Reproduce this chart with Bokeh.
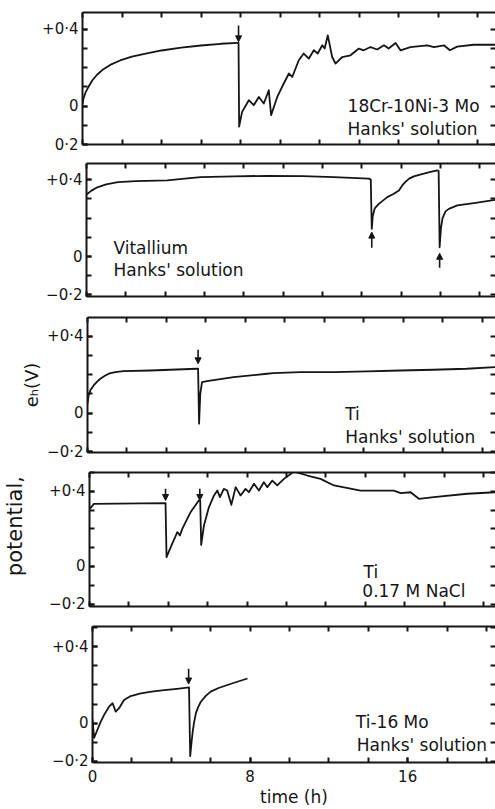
from bokeh.plotting import figure
from bokeh.layouts import column, row
from bokeh.models import Range1d, LinearAxis, FixedTicker, Label, Arrow, NormalHead
from bokeh.embed import file_html
from bokeh.resources import INLINE

FONT = "DejaVu Sans"
INK = "#151515"

# ---------------- data (time in h, potential in V) ----------------
# Panel 1: 18Cr-10Ni-3 Mo, Hanks' solution
t1 = [0, 0.05, 0.15, 0.3, 0.5, 0.75, 1.0, 1.4, 1.9, 2.5, 3.2, 4.0, 5.0, 6.0, 7.0, 7.85, 7.9,
      7.93, 8.08, 8.42, 8.67, 8.93, 9.18, 9.43, 9.55, 9.86, 10.19, 10.45, 10.62, 10.95, 11.2,
      11.46, 11.71, 11.91, 12.14, 12.26, 12.42, 12.64, 12.81, 13.15, 13.57, 13.99, 14.24,
      14.58, 14.92, 15.26, 15.5, 15.85, 16.1, 16.6, 17.45, 17.8, 18.3, 18.6, 18.97, 19.8, 20.9]
v1 = [0.01, 0.04, 0.07, 0.10, 0.135, 0.165, 0.188, 0.215, 0.238, 0.258, 0.274, 0.29, 0.305,
      0.316, 0.325, 0.33, 0.33, -0.107, -0.03, 0.031, 0.005, 0.048, 0.014, 0.083, -0.047, 0.048,
      0.118, 0.17, 0.152, 0.239, 0.274, 0.248, 0.291, 0.274, 0.317, 0.30, 0.369, 0.256, 0.222,
      0.256, 0.265, 0.30, 0.291, 0.308, 0.295, 0.317, 0.30, 0.329, 0.291, 0.308, 0.317, 0.308,
      0.317, 0.291, 0.31, 0.32, 0.32]

# Panel 2: Vitallium, Hanks' solution
t2 = [0, 0.25, 0.55, 1.0, 1.6, 2.5, 4.1, 5.0, 5.8, 7.5, 9.2, 11.0, 12.57, 14.35, 14.45, 14.5,
      14.55, 14.65, 14.86, 15.29, 15.6, 15.88, 16.05, 16.2, 16.4, 16.64, 17.0, 17.49, 17.83,
      17.9, 17.95, 18.02, 18.1, 18.25, 18.42, 18.85, 19.69, 20.8]
v2 = [0.323, 0.343, 0.36, 0.375, 0.387, 0.392, 0.396, 0.405, 0.413, 0.417, 0.42, 0.418, 0.413,
      0.405, 0.40, 0.144, 0.21, 0.25, 0.274, 0.309, 0.325, 0.344, 0.37, 0.387, 0.405, 0.417,
      0.428, 0.44, 0.448, 0.445, 0.048, 0.15, 0.20, 0.235, 0.248, 0.266, 0.278, 0.295]

# Panel 3: Ti, Hanks' solution
t3 = [0, 0.05, 0.15, 0.31, 0.5, 0.65, 0.9, 1.15, 1.5, 1.83, 3.18, 5.54, 5.6, 5.65, 5.71, 5.8,
      6.05, 7.4, 9.09, 9.4, 10.77, 12.46, 14.15, 15.84, 17.5, 19.2, 20.65]
v3 = [0.05, 0.09, 0.12, 0.144, 0.165, 0.179, 0.196, 0.208, 0.215, 0.219, 0.222, 0.231, 0.231,
      -0.055, 0.10, 0.161, 0.167, 0.188, 0.205, 0.208, 0.214, 0.214, 0.217, 0.222, 0.226,
      0.231, 0.24]

# Panel 4: Ti, 0.17 M NaCl
t4 = [0, 0.09, 0.22, 3.86, 3.91, 4.2, 4.46, 4.59, 4.71, 5.13, 5.55, 5.62, 5.67, 5.81, 6.06,
      6.32, 6.49, 6.62, 6.82, 6.99, 7.2, 7.42, 7.67, 7.92, 8.09, 8.35, 8.6, 8.85, 9.03, 9.28,
      9.53, 9.87, 10.38, 11.06, 11.73, 12.41, 13.76, 15.45, 15.8, 16.3, 16.72, 17.48, 19.18,
      20.6]
v4 = [0.307, 0.315, 0.333, 0.337, 0.05, 0.121, 0.183, 0.165, 0.20, 0.289, 0.351, 0.351, 0.115,
      0.218, 0.315, 0.378, 0.404, 0.369, 0.413, 0.404, 0.328, 0.422, 0.378, 0.413, 0.395, 0.44,
      0.404, 0.448, 0.422, 0.457, 0.431, 0.466, 0.505, 0.484, 0.466, 0.431, 0.404, 0.404, 0.39,
      0.395, 0.36, 0.369, 0.387, 0.395]

# Panel 5: Ti-16 Mo, Hanks' solution
t5 = [0, 0.08, 0.25, 0.42, 0.59, 0.84, 1.02, 1.18, 1.35, 1.6, 1.94, 2.45, 3.0, 3.63, 4.3, 4.9,
      4.96, 5.02, 5.08, 5.15, 5.25, 5.37, 5.5, 5.75, 6.0, 6.4, 6.85, 7.35, 7.87]
v5 = [0.02, -0.078, -0.035, 0.008, 0.043, 0.086, 0.104, 0.06, 0.078, 0.121, 0.142, 0.156, 0.165,
      0.173, 0.18, 0.1875, -0.174, -0.11, -0.052, 0.0, 0.052, 0.085, 0.112, 0.143, 0.165,
      0.184, 0.20, 0.217, 0.234]

series_t = [t1, t2, t3, t4, t5]
series_v = [v1, v2, v3, v4, v5]

# arrows: (time, tail potential, head potential)
arrows = [
    [(7.9, 0.42, 0.335)],
    [(14.5, 0.045, 0.127), (17.95, -0.059, 0.017)],
    [(5.6, 0.33, 0.257)],
    [(3.86, 0.413, 0.351), (5.6, 0.413, 0.351)],
    [(4.88, 0.285, 0.205)],
]

# annotation texts: (time, potential, text)
notes = [
    [(13.42, 0.0, "18Cr-10Ni-3 Mo"), (13.42, -0.12, "Hanks' solution")],
    [(1.37, 0.042, "Vitallium"), (1.37, -0.068, "Hanks' solution")],
    [(13.05, -0.007, "Ti"), (13.05, -0.125, "Hanks' solution")],
    [(13.91, -0.03, "Ti"), (13.85, -0.131, "0.17 M NaCl")],
    [(13.37, 0.008, "Ti-16 Mo"), (13.42, -0.113, "Hanks' solution")],
]

y_major = [-0.2, 0.0, 0.4]
y_minor = [-0.2, -0.1, 0.0, 0.1, 0.2, 0.3, 0.4, 0.5]
y_labels = [
    {0.4: "+0·4", 0.0: "0", -0.2: "0·2"},
    {0.4: "+0·4", 0.0: "0", -0.2: "−0·2"},
    {0.4: "+0·4", 0.0: "0", -0.2: "−0·2"},
    {0.4: "+0·4", 0.0: "0", -0.2: "−0·2"},
    {0.4: "+0·4", 0.0: "0", -0.2: "−0·2"},
]
x_major = [0, 8, 16]
x_minor = [0, 2, 4, 6, 8, 10, 12, 14, 16, 18, 20]
x_labels = {0: "0", 8: "8", 16: "16"}
x_title = "time (h)"
y_title_a = "eₕ(V)"
y_title_b = "\u00a0\u00a0\u00a0\u00a0potential,"

# ---------------- layout ----------------
# (height, border_left, border_top, border_bottom, x_end, y_start, y_end)
layout = [
    (153, 82, 12, 9, 20.91, -0.20, 0.488),
    (154, 86, 10, 11, 20.79, -0.208, 0.484),
    (155, 87, 10, 10, 20.66, -0.205, 0.498),
    (154, 89, 10, 10, 20.61, -0.213, 0.50),
    (193, 92, 10, 46, 20.46, -0.207, 0.507),
]


def style_ticks(ax):
    ax.major_tick_in = 5
    ax.major_tick_out = 0
    ax.minor_tick_in = 5
    ax.minor_tick_out = 0
    ax.major_tick_line_width = 2
    ax.minor_tick_line_width = 2
    ax.major_tick_line_color = INK
    ax.minor_tick_line_color = INK


figs = []
for i in range(5):
    h, bl, bt, bb, xe, y0, y1 = layout[i]
    p = figure(width=495, height=h, x_range=Range1d(0, xe), y_range=Range1d(y0, y1),
               output_backend="svg", toolbar_location=None,
               min_border_left=bl, min_border_right=0, min_border_top=bt, min_border_bottom=bb)
    p.outline_line_color = None
    p.grid.visible = False
    p.background_fill_color = "white"
    p.border_fill_color = "white"

    # left axis
    ya = p.yaxis[0]
    ya.ticker = FixedTicker(ticks=y_major, minor_ticks=y_minor)
    ya.major_label_overrides = y_labels[i]
    style_ticks(ya)
    ya.axis_line_width = 2
    ya.axis_line_color = INK
    ya.major_label_standoff = 4
    ya.major_label_text_font = FONT
    ya.major_label_text_font_size = "15px"
    ya.major_label_text_color = INK

    # bottom axis
    xa = p.xaxis[0]
    style_ticks(xa)
    xa.axis_line_width = 2
    xa.axis_line_color = INK
    if i == 4:
        xa.ticker = FixedTicker(ticks=x_major, minor_ticks=x_minor)
        xa.major_label_overrides = x_labels
        xa.major_label_standoff = 7
        xa.major_label_text_font = FONT
        xa.major_label_text_font_size = "15px"
        xa.major_label_text_color = INK
        xa.axis_label = x_title
        xa.axis_label_standoff = 2
        xa.axis_label_text_font = FONT
        xa.axis_label_text_font_size = "17px"
        xa.axis_label_text_font_style = "normal"
        xa.axis_label_text_color = INK
    else:
        xa.ticker = FixedTicker(ticks=[], minor_ticks=x_minor)

    # top axis (ticks only)
    ta = LinearAxis(ticker=FixedTicker(ticks=[], minor_ticks=x_minor),
                    axis_line_width=2, axis_line_color=INK)
    style_ticks(ta)
    p.add_layout(ta, "above")
    # right axis (ticks only, edge is cut off)
    ra = LinearAxis(ticker=FixedTicker(ticks=[], minor_ticks=y_minor), axis_line_color=None)
    style_ticks(ra)
    p.add_layout(ra, "right")

    if i == 2:
        ya.axis_label = y_title_a
        ya.axis_label_standoff = 2
        ya.axis_label_text_font = FONT
        ya.axis_label_text_font_size = "18px"
        ya.axis_label_text_font_style = "normal"
        ya.axis_label_text_color = INK
    if i == 3:
        ya.axis_label = y_title_b
        ya.axis_label_standoff = 19
        ya.axis_label_text_font = FONT
        ya.axis_label_text_font_size = "21px"
        ya.axis_label_text_font_style = "normal"
        ya.axis_label_text_color = INK

    p.line(series_t[i], series_v[i], line_color=INK, line_width=1.8, line_join="round")

    for (tx_, v_from, v_to) in arrows[i]:
        p.add_layout(Arrow(end=NormalHead(size=6, fill_color=INK, line_color=INK, line_width=1),
                           x_start=tx_, y_start=v_from, x_end=tx_, y_end=v_to,
                           line_color=INK, line_width=1.6))

    for (tx, vy, txt) in notes[i]:
        p.add_layout(Label(x=tx, y=vy, text=txt, text_font=FONT, text_font_size="17px",
                           text_color=INK, text_baseline="alphabetic", text_align="left"))
    figs.append(p)

# each panel in its own row so the panels keep their own (slightly skewed) frame edges
layout_col = column(*[row(f, spacing=0) for f in figs], spacing=0)
open("out.html", "w").write(file_html(layout_col, INLINE))
